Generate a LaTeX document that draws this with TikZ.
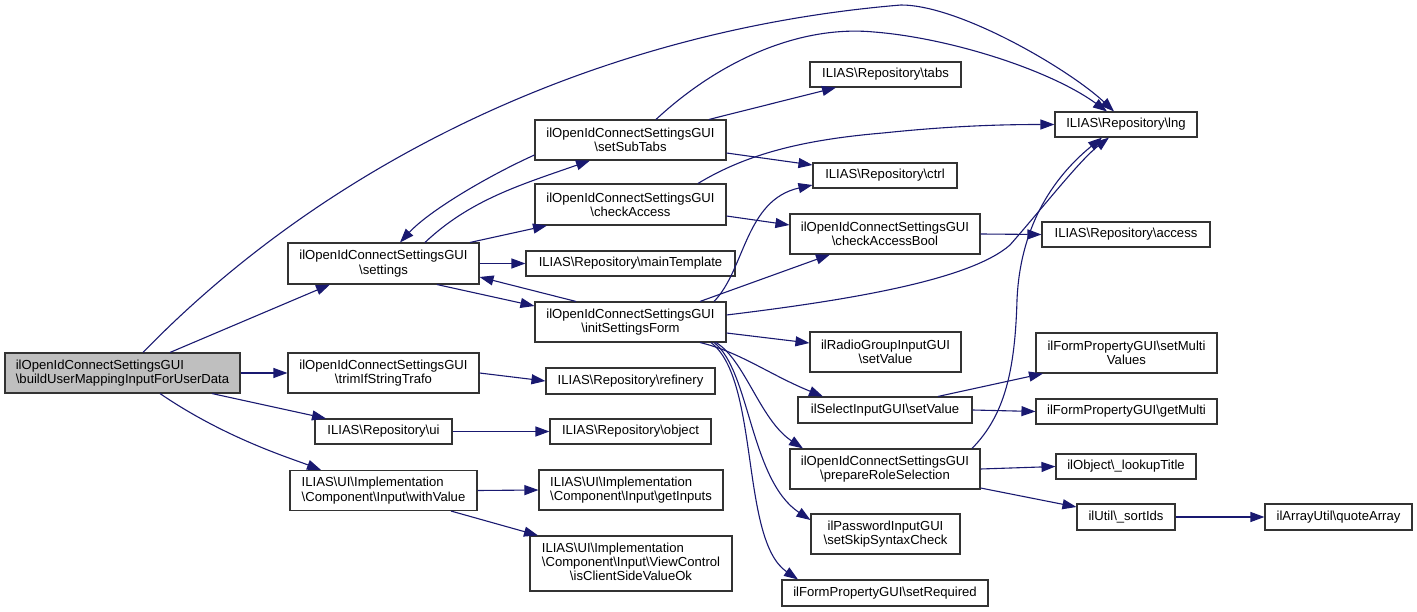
\documentclass[tikz,border=0pt]{standalone}
\usepackage{fontspec}
\setmainfont{Liberation Sans}
\usepackage{xcolor}
\usetikzlibrary{arrows.meta}
\definecolor{edgeblue}{HTML}{191970}
\newcommand{\bsl}{\textbackslash}
\tikzstyle{funcbox} = [draw=black!80, fill=white, line width=1.1pt,
    rectangle, inner sep=0pt, align=center,
    font=\fontsize{13.1}{14.3}\selectfont]
\tikzstyle{rootbox} = [funcbox, fill=gray!50]
\tikzstyle{callarrow} = [draw=edgeblue, line width=1.1pt,
    -{Triangle[length=14pt,width=10pt]}]

\begin{document}
\begin{tikzpicture}[x=1pt, y=-1pt]
    \useasboundingbox (0,0) rectangle (1417,612);
    % first column
    \node [rootbox, align=left, minimum width=235, minimum height=40] (build) at (122.5,373)
        {ilOpenIdConnectSettingsGUI\\\bsl{}buildUserMappingInputForUserData};
    % second column
    \node [funcbox, minimum width=191, minimum height=41] (settings) at (383.5,263.5)
        {ilOpenIdConnectSettingsGUI\\\bsl{}settings};
    \node [funcbox, minimum width=191, minimum height=40] (trim) at (383.5,373)
        {ilOpenIdConnectSettingsGUI\\\bsl{}trimIfStringTrafo};
    \node [funcbox, minimum width=137, minimum height=25] (ui) at (383.5,431.5)
        {ILIAS\bsl{}Repository\bsl{}ui};
    \node [funcbox, align=left, minimum width=187, minimum height=40] (withvalue) at (383.5,490.5)
        {ILIAS\bsl{}UI\bsl{}Implementation\\\bsl{}Component\bsl{}Input\bsl{}withValue};
    % third column
    \node [funcbox, minimum width=191, minimum height=40] (subtabs) at (630.5,140)
        {ilOpenIdConnectSettingsGUI\\\bsl{}setSubTabs};
    \node [funcbox, minimum width=191, minimum height=41] (checkaccess) at (630.5,204.5)
        {ilOpenIdConnectSettingsGUI\\\bsl{}checkAccess};
    \node [funcbox, minimum width=209, minimum height=25] (maintpl) at (630.5,263.5)
        {ILIAS\bsl{}Repository\bsl{}mainTemplate};
    \node [funcbox, minimum width=191, minimum height=40] (initform) at (630.5,322)
        {ilOpenIdConnectSettingsGUI\\\bsl{}initSettingsForm};
    \node [funcbox, minimum width=169, minimum height=26] (refinery) at (630.5,381)
        {ILIAS\bsl{}Repository\bsl{}refinery};
    \node [funcbox, minimum width=161, minimum height=25] (object) at (630.5,431.5)
        {ILIAS\bsl{}Repository\bsl{}object};
    \node [funcbox, align=left, minimum width=184, minimum height=40] (getinputs) at (631,490)
        {ILIAS\bsl{}UI\bsl{}Implementation\\\bsl{}Component\bsl{}Input\bsl{}getInputs};
    \node [funcbox, minimum width=202, minimum height=55] (clientok) at (631,563.5)
        {\begin{tabular}{@{}l@{}}
            ILIAS\bsl{}UI\bsl{}Implementation\\
            \bsl{}Component\bsl{}Input\bsl{}ViewControl\\
            \multicolumn{1}{@{}c@{}}{\bsl{}isClientSideValueOk}
        \end{tabular}};
    % fourth column
    \node [funcbox, minimum width=151, minimum height=25] (tabs) at (885.5,74.5)
        {ILIAS\bsl{}Repository\bsl{}tabs};
    \node [funcbox, minimum width=144, minimum height=25] (ctrl) at (885,175.5)
        {ILIAS\bsl{}Repository\bsl{}ctrl};
    \node [funcbox, minimum width=190, minimum height=40] (accessbool) at (885,234)
        {ilOpenIdConnectSettingsGUI\\\bsl{}checkAccessBool};
    \node [funcbox, minimum width=151, minimum height=40] (radio) at (885.5,352)
        {ilRadioGroupInputGUI\\\bsl{}setValue};
    \node [funcbox, minimum width=174, minimum height=26] (select) at (885,410)
        {ilSelectInputGUI\bsl{}setValue};
    \node [funcbox, minimum width=190, minimum height=40] (roles) at (885,469)
        {ilOpenIdConnectSettingsGUI\\\bsl{}prepareRoleSelection};
    \node [funcbox, minimum width=149, minimum height=40] (password) at (885.5,534)
        {ilPasswordInputGUI\\\bsl{}setSkipSyntaxCheck};
    \node [funcbox, minimum width=206, minimum height=26] (required) at (885,593)
        {ilFormPropertyGUI\bsl{}setRequired};
    % fifth column
    \node [funcbox, minimum width=142, minimum height=25] (lng) at (1126,124.5)
        {ILIAS\bsl{}Repository\bsl{}lng};
    \node [funcbox, minimum width=168, minimum height=25] (access) at (1126,234.5)
        {ILIAS\bsl{}Repository\bsl{}access};
    \node [funcbox, minimum width=181, minimum height=40] (setmulti) at (1126.5,353)
        {ilFormPropertyGUI\bsl{}setMulti\\Values};
    \node [funcbox, minimum width=181, minimum height=25] (getmulti) at (1126.5,411.5)
        {ilFormPropertyGUI\bsl{}getMulti};
    \node [funcbox, minimum width=140, minimum height=25] (lookup) at (1126,466.5)
        {ilObject\bsl\_lookupTitle};
    \node [funcbox, minimum width=98, minimum height=26] (sortids) at (1126,517)
        {ilUtil\bsl\_sortIds};
    \node [funcbox, minimum width=147, minimum height=26] (quote) at (1338.5,517)
        {ilArrayUtil\bsl{}quoteArray};

    % calls from buildUserMappingInputForUserData
    \draw [callarrow] ([xshift=47.5pt]build.north) -- ([xshift=-53.5pt]settings.south);
    \draw [callarrow] ([xshift=20.5pt]build.north) .. controls (330,160) and (600,30) .. (901,5)
        .. controls (960,5) and (1070,70) .. ([xshift=-12pt]lng.north);
    \draw [callarrow] (build.east) -- (trim.west);
    \draw [callarrow] ([xshift=89.5pt]build.south) -- ([xshift=-57.5pt]ui.north);
    \draw [callarrow] ([xshift=37.5pt]build.south) .. controls (225,438) and (290,458)
        .. ([xshift=-62.5pt]withvalue.north);
    % calls from settings
    \draw [callarrow] ([yshift=-15pt]subtabs.west) .. controls (490,175) and (430,210)
        .. ([xshift=16.5pt]settings.north);
    \draw [callarrow] ([xshift=41.5pt]settings.north) .. controls (470,200) and (520,185)
        .. ([xshift=-40.5pt]subtabs.south);
    \draw [callarrow] ([xshift=86.5pt]settings.north) -- ([xshift=-83.5pt]checkaccess.south);
    \draw [callarrow] (settings.east) -- (maintpl.west);
    \draw [callarrow] ([xshift=53.5pt]settings.south) -- ([yshift=16pt]initform.west);
    \draw [callarrow] ([xshift=-54.5pt]initform.north) -- ([yshift=-13.5pt]settings.east);
    % calls from setSubTabs and checkAccess
    \draw [callarrow] ([xshift=78.5pt]subtabs.north) -- ([xshift=-49.5pt]tabs.south);
    \draw [callarrow] ([xshift=25.5pt]subtabs.north) .. controls (720,60) and (800,25) .. (874,32)
        .. controls (950,38) and (1050,70) .. ([xshift=-19pt]lng.north);
    \draw [callarrow] ([yshift=-13pt]subtabs.east) -- ([yshift=10.5pt]ctrl.west);
    \draw [callarrow] ([xshift=67.5pt]checkaccess.north) .. controls (745,155) and (800,140) .. (883,133)
        .. controls (950,126) and (1000,124.5) .. (lng.west);
    \draw [callarrow] ([yshift=-11.5pt]checkaccess.east) -- ([yshift=9pt]accessbool.west);
    \draw [callarrow] (accessbool.east) -- (access.west);
    % calls from initSettingsForm
    \draw [callarrow] ([xshift=83.5pt]initform.north) .. controls (745,270) and (745,200)
        .. ([yshift=-9.5pt]ctrl.west);
    \draw [callarrow] ([xshift=69.5pt]initform.north) -- ([xshift=-55pt]accessbool.south);
    \draw [callarrow] ([yshift=7pt]initform.east) .. controls (850,300) and (970,280) .. (1010,245)
        .. controls (1045,205) and (1080,160) .. ([xshift=-17pt]lng.south);
    \draw [callarrow] ([yshift=-11pt]initform.east) -- ([yshift=9pt]radio.west);
    \draw [callarrow] ([xshift=69.5pt]initform.south) .. controls (740,352) and (770,375)
        .. ([xshift=-62pt]select.north);
    \draw [callarrow] ([xshift=85.5pt]initform.south) .. controls (745,360) and (760,420)
        .. ([xshift=-82pt]roles.north);
    \draw [callarrow] ([xshift=83.5pt]initform.south) .. controls (750,370) and (750,480)
        .. ([yshift=14pt]password.west);
    \draw [callarrow] ([xshift=80.5pt]initform.south) .. controls (760,380) and (740,540)
        .. ([xshift=-87pt]required.north);
    % remaining calls
    \draw [callarrow] ([xshift=53pt]select.north) -- ([xshift=-83.5pt]setmulti.south);
    \draw [callarrow] (select.east) -- (getmulti.west);
    \draw [callarrow] ([xshift=87pt]roles.north) .. controls (1005,415) and (1015,370) .. (1017,300)
        .. controls (1020,230) and (1050,180) .. ([xshift=-24pt]lng.south);
    \draw [callarrow] (roles.east) -- (lookup.west);
    \draw [callarrow] ([yshift=-19pt]roles.east) -- ([yshift=10pt]sortids.west);
    \draw [callarrow] (sortids.east) -- (quote.west);
    \draw [callarrow] (trim.east) -- (refinery.west);
    \draw [callarrow] (ui.east) -- (object.west);
    \draw [callarrow] (withvalue.east) -- (getinputs.west);
    \draw [callarrow] ([xshift=67.5pt]withvalue.south) -- ([xshift=-93pt]clientok.north);
\end{tikzpicture}
\end{document}
